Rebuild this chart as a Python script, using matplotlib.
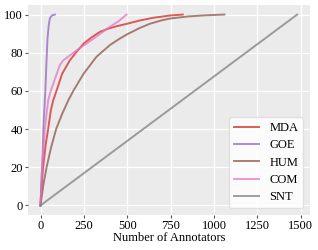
import numpy as np
import matplotlib
matplotlib.use('Agg')
import matplotlib.pyplot as plt

# cumulative coverage (%) vs. number of annotators
mda_x = [0, 5, 15, 30, 44, 60, 73, 92, 112, 125, 169, 208, 250, 294, 342, 390, 440,
         500, 573, 650, 746, 820]
mda_y = [0, 9, 20, 32, 40, 50, 55, 60, 65.5, 69, 76, 80.5, 84.9, 88, 90.9, 92.6, 93.9,
         95.2, 96.9, 98.3, 99.5, 100]

goe_x = [0, 9, 19, 28, 33, 40, 47, 54, 65, 83]
goe_y = [0, 20, 45, 60, 72, 87, 94, 98, 99.5, 100]

hum_x = [0, 15, 35, 60, 90, 125, 160, 192, 250, 323, 400, 450, 496, 573, 631, 700, 746,
         850, 950, 1060]
hum_y = [0, 10, 20, 30, 40, 48, 55, 60.5, 69.2, 77.9, 84, 87, 89.5, 93, 95.2, 97, 97.9,
         99, 99.6, 100]

com_x = [0, 9, 25, 44, 59, 90, 112, 131, 208, 294, 342, 390, 450, 496]
com_y = [0, 20, 40, 55, 60, 68, 73.6, 76, 81.2, 86.6, 89.8, 93, 96.5, 100]

snt_x = [0, 1480]
snt_y = [0, 100]

labels = ['MDA', 'GOE', 'HUM', 'COM', 'SNT']
colors = ['#d62728', '#9467bd', '#8c564b', '#e377c2', '#7f7f7f']

plt.rcParams['font.family'] = ['Liberation Serif', 'DejaVu Serif']

fig, ax = plt.subplots(figsize=(3.18, 2.5), dpi=100)
ax.set_facecolor('#ebebeb')
for s in ax.spines.values():
    s.set_visible(False)
ax.grid(True, color='white', linewidth=0.9)
ax.set_axisbelow(True)

series = [(mda_x, mda_y), (goe_x, goe_y), (hum_x, hum_y), (com_x, com_y), (snt_x, snt_y)]
for (x, y), lab, c in zip(series, labels, colors):
    ax.plot(x, y, color=c, alpha=0.75, linewidth=1.4, label=lab)

ax.set_xticks([0, 250, 500, 750, 1000, 1250, 1500])
ax.set_yticks([0, 20, 40, 60, 80, 100])
ax.tick_params(length=2.5, width=0.8, color='#555555', pad=0.8, labelsize=9)
ax.set_xlabel('Number of Annotators', fontsize=9, labelpad=0)

leg = ax.legend(loc='lower right', fontsize=9, frameon=True, facecolor='white',
                edgecolor='#dddddd', framealpha=0.85, labelspacing=0.42,
                borderpad=0.4, handlelength=2.0, borderaxespad=0.55)

fig.subplots_adjust(left=0.087, right=0.975, top=0.98, bottom=0.14)
fig.savefig('out.png', dpi=100)
